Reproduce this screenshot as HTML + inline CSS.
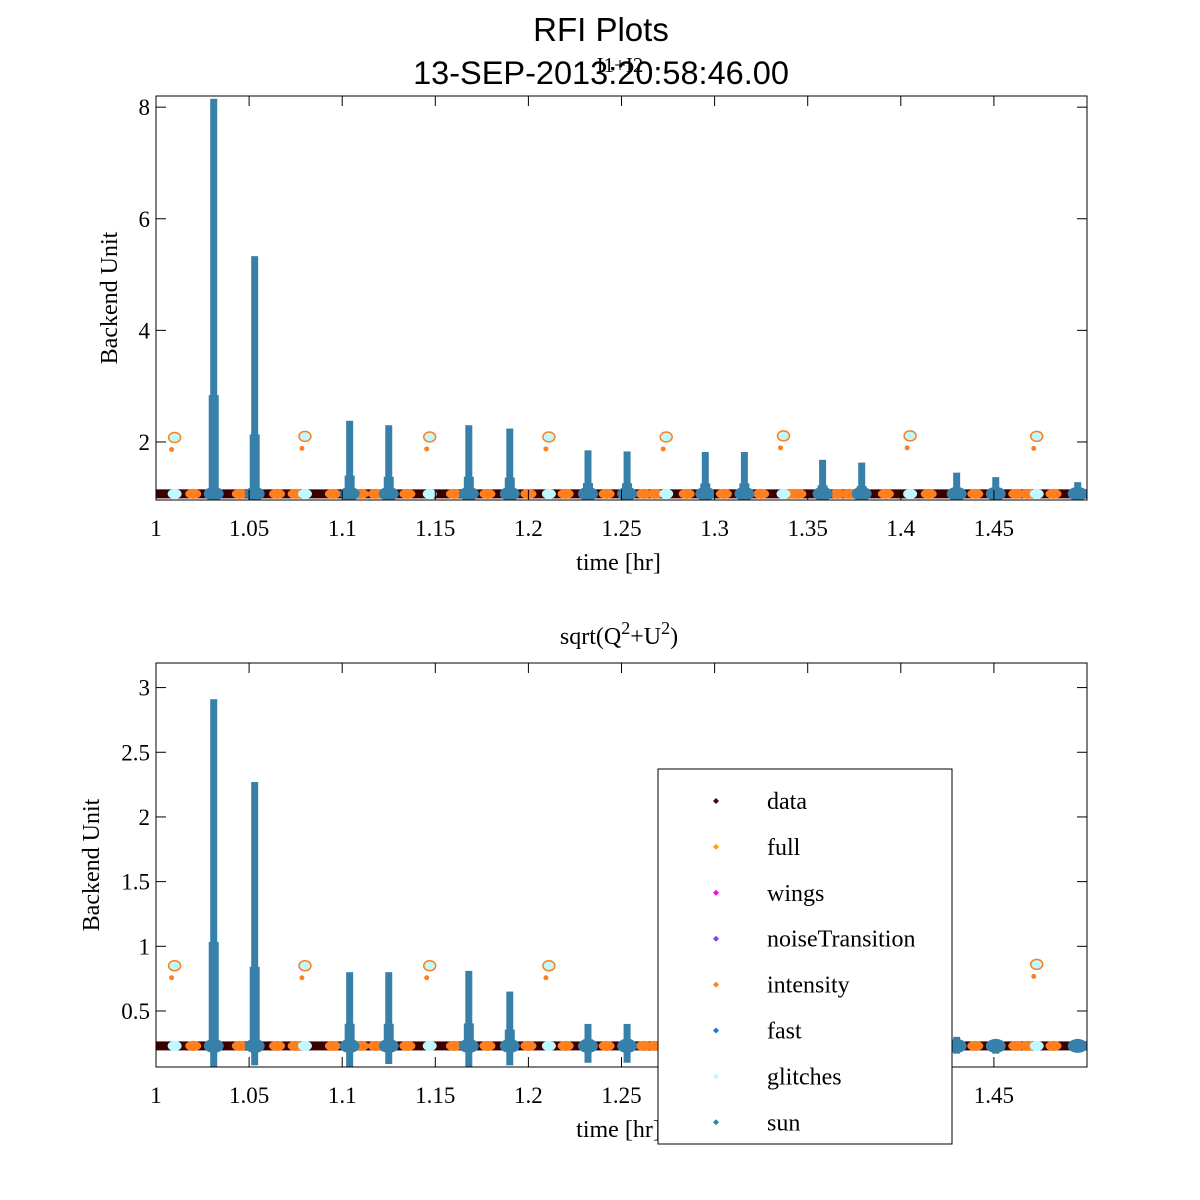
<!DOCTYPE html>
<html><head><meta charset="utf-8"><style>
html,body{margin:0;padding:0;background:#fff;}
svg{display:block;}
.tk{font-family:"Liberation Serif",serif;font-size:23px;fill:#000;}
.lb{font-family:"Liberation Serif",serif;font-size:24px;fill:#000;}
</style></head><body>
<svg id="chart" width="1200" height="1200" viewBox="0 0 1200 1200" xmlns="http://www.w3.org/2000/svg">
<text x="601" y="41" text-anchor="middle" font-family="Liberation Sans, sans-serif" font-size="33">RFI Plots</text>
<text x="601" y="84" text-anchor="middle" font-family="Liberation Sans, sans-serif" font-size="32.5">13-SEP-2013:20:58:46.00</text>
<text x="620" y="72" text-anchor="middle" font-family="Liberation Serif, serif" font-size="21">I1+I2</text>
<text x="619" y="644" text-anchor="middle" font-family="Liberation Serif, serif" font-size="24">sqrt(Q<tspan dy="-10" font-size="18">2</tspan><tspan dy="10">+U</tspan><tspan dy="-10" font-size="18">2</tspan><tspan dy="10">)</tspan></text>
<g id="top"></g>
<g id="bot"></g>
<g id="legend"></g>
</svg>
<script>
// ---- data ----
const xTicks = [1, 1.05, 1.1, 1.15, 1.2, 1.25, 1.3, 1.35, 1.4, 1.45];
const xTickLabels = ["1","1.05","1.1","1.15","1.2","1.25","1.3","1.35","1.4","1.45"];
const topYTicks = [2, 4, 6, 8];
const botYTicks = [0.5, 1, 1.5, 2, 2.5, 3];
const botYTickLabels = ["0.5","1","1.5","2","2.5","3"];
const spikeTimes = [1.031,1.053,1.104,1.125,1.168,1.190,1.232,1.253,1.295,1.316,1.358,1.379,1.430,1.451,1.495];
const topSpikePeaks = [8.15,5.33,2.38,2.30,2.30,2.24,1.85,1.83,1.82,1.82,1.68,1.63,1.45,1.37,1.28];
const botSpikePeaks = [2.91,2.27,0.80,0.80,0.81,0.65,0.40,0.40,0.40,0.40,0.38,0.36,0.30,0.28,0.27];
const botSpikeLows = [0.05,0.08,0.07,0.09,0.06,0.08,0.10,0.10,0.12,0.12,0.14,0.15,0.17,0.17,0.18];
const glitchTimes = [1.010,1.080,1.147,1.211,1.274,1.337,1.405,1.473];
const topGlitchVals = [2.08,2.10,2.09,2.09,2.09,2.11,2.11,2.10];
const botGlitchVals = [0.85,0.85,0.85,0.85,0.85,0.85,0.85,0.86];
const orangeTimes = [1.020,1.045,1.065,1.075,1.095,1.110,1.118,1.135,1.160,1.178,1.200,1.220,1.242,1.262,1.268,1.285,1.305,1.325,1.340,1.345,1.366,1.372,1.392,1.415,1.440,1.462,1.468,1.482];
const topBaseline = 1.07;
const botBaseline = 0.23;
const legendLabels = ["data","full","wings","noiseTransition","intensity","fast","glitches","sun"];
const legendColors = ["#4a0808","#ffa500","#ff00ff","#7f3fff","#ff7f1f","#1f77d4","#bff8ff","#3680aa"];

const NS = "http://www.w3.org/2000/svg";
function mk(tag, attrs, parent){const e=document.createElementNS(NS,tag);for(const k in attrs)e.setAttribute(k,attrs[k]);parent.appendChild(e);return e;}

function panel(g, cfg){
  const {L,R,T,B,ymin,ymax,ticks,tickLabels,peaks,lows,baseline,glitchVals,ylabelX,spikeBase} = cfg;
  const xs = v => L + (v-1)/(1.5-1)*(R-L);
  const ys = v => B - (v-ymin)/(ymax-ymin)*(B-T);
  const clip = mk("clipPath",{id:g.id+"clip"},g);
  mk("rect",{x:L,y:T,width:R-L,height:B-T},clip);
  const plot = mk("g",{"clip-path":"url(#"+g.id+"clip)"},g);
  
  
  const band = mk("rect",{x:L,y:ys(baseline)-4.5,width:R-L,height:9,fill:"#3a0000"},plot);
  
  
  orangeTimes.forEach(t=>{
    const o = mk("ellipse",{cx:xs(t),cy:ys(baseline),rx:8,ry:5,fill:"#ff7f1f"},plot);
    
    
  });
  glitchTimes.forEach((t,i)=>{
    const gg = mk("g",{},plot);
    
    
    mk("ellipse",{cx:xs(t),cy:ys(glitchVals[i]),rx:6,ry:5,fill:"#bff8ff",stroke:"#ff7f1f","stroke-width":1.5},gg);
    mk("circle",{cx:xs(t)-3,cy:ys(glitchVals[i])+12,r:2.5,fill:"#ff7f1f"},gg);
    mk("ellipse",{cx:xs(t),cy:ys(baseline),rx:7,ry:5,fill:"#bff8ff"},gg);
  });
  spikeTimes.forEach((t,i)=>{
    const x = xs(t), yp = ys(peaks[i]), yb = ys(baseline);
    const ylo = lows ? ys(lows[i]) : yb+7;
    const s = mk("g",{fill:"#3680aa"},plot);
    
    
    mk("rect",{x:x-3.5,y:yp,width:7,height:ylo-yp},s);
    mk("rect",{x:x-5,y:yp+(yb-yp)*spikeBase,width:10,height:yb-(yp+(yb-yp)*spikeBase)},s);
    mk("ellipse",{cx:x,cy:yb,rx:10,ry:7},s);
  });
  const fr = mk("rect",{x:L,y:T,width:R-L,height:B-T,fill:"none",stroke:"#000","stroke-width":1},g);
  
  
  xTicks.forEach((v,i)=>{
    const x = xs(v);
    mk("line",{x1:x,y1:B,x2:x,y2:B-10,stroke:"#000"},g);
    mk("line",{x1:x,y1:T,x2:x,y2:T+10,stroke:"#000"},g);
    const tl = mk("text",{x:x,y:B+36,"text-anchor":"middle",class:"tk"},g);
    tl.textContent = xTickLabels[i];
    
    
  });
  ticks.forEach((v,i)=>{
    const y = ys(v);
    mk("line",{x1:L,y1:y,x2:L+10,y2:y,stroke:"#000"},g);
    mk("line",{x1:R,y1:y,x2:R-10,y2:y,stroke:"#000"},g);
    const tl = mk("text",{x:L-6,y:y+8,"text-anchor":"end",class:"tk"},g);
    tl.textContent = tickLabels[i];
    
    
  });
  const xl = mk("text",{x:(L+R)/2-3,y:B+70,"text-anchor":"middle",class:"lb"},g);
  xl.textContent = "time [hr]";
  
  
  const yc = (T+B)/2;
  const yl = mk("text",{x:ylabelX,y:yc,"text-anchor":"middle",class:"lb",transform:"rotate(-90 "+ylabelX+" "+yc+")"},g);
  yl.textContent = "Backend Unit";
  
  
}
const topG = document.getElementById("top");


panel(topG,{L:156,R:1087,T:96,B:500,ymin:0.96,ymax:8.2,ticks:topYTicks,tickLabels:topYTicks.map(String),peaks:topSpikePeaks,lows:null,baseline:topBaseline,glitchVals:topGlitchVals,ylabelX:117,spikeBase:0.75});
const botG = document.getElementById("bot");


panel(botG,{L:156,R:1087,T:663,B:1067,ymin:0.067,ymax:3.19,ticks:botYTicks,tickLabels:botYTickLabels,peaks:botSpikePeaks,lows:botSpikeLows,baseline:botBaseline,glitchVals:botGlitchVals,ylabelX:99,spikeBase:0.7});

const lg = document.getElementById("legend");
mk("rect",{x:658,y:769,width:294,height:375,fill:"#fff",stroke:"#000","stroke-width":1},lg);
legendLabels.forEach((lab,i)=>{
  const y = 801 + i*45.9;
  const e = mk("g",{},lg);
  
  
  mk("path",{d:`M${716-3},${y} L716,${y-3} L${716+3},${y} L716,${y+3} Z`,fill:legendColors[i]},e);
  const t = mk("text",{x:767,y:y+8,class:"lb"},e);
  t.textContent = lab;
});
</script>
</body></html>
